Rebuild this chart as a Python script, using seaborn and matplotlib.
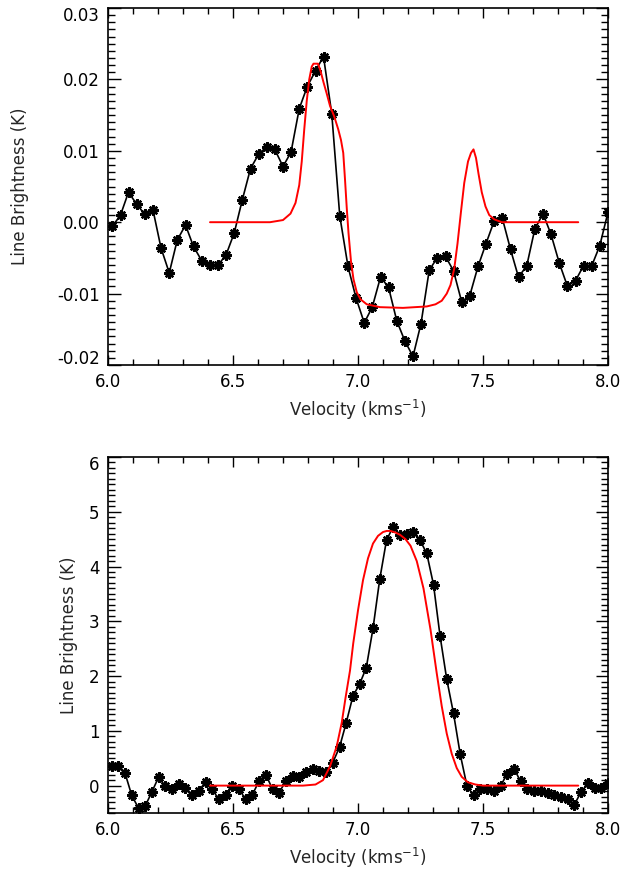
import numpy as np
import pandas as pd
import matplotlib
matplotlib.use("Agg")
import matplotlib.pyplot as plt
from matplotlib.ticker import MultipleLocator
from matplotlib.transforms import ScaledTranslation
import seaborn as sns

# ---------------- top panel: observed spectrum ----------------
top_vel = [6.017, 6.050, 6.082, 6.115, 6.147, 6.180, 6.212, 6.245, 6.277, 6.310,
           6.342, 6.375, 6.407, 6.440, 6.472, 6.505, 6.537, 6.570, 6.602, 6.635,
           6.667, 6.700, 6.732, 6.765, 6.797, 6.830, 6.862, 6.895, 6.927, 6.960,
           6.992, 7.025, 7.057, 7.090, 7.122, 7.155, 7.187, 7.220, 7.252, 7.285,
           7.317, 7.350, 7.382, 7.415, 7.447, 7.480, 7.512, 7.545, 7.577, 7.610,
           7.642, 7.675, 7.707, 7.740, 7.772, 7.805, 7.837, 7.870, 7.902, 7.935,
           7.967, 8.000]
top_tb = [-0.0006, 0.0010, 0.0042, 0.0025, 0.0011, 0.0017, -0.0036, -0.0071, -0.0025, -0.0004,
          -0.0034, -0.0054, -0.0060, -0.0060, -0.0046, -0.0015, 0.0031, 0.0075, 0.0095, 0.0106,
          0.0102, 0.0078, 0.0098, 0.0159, 0.0190, 0.0212, 0.0232, 0.0152, 0.0009, -0.0062,
          -0.0106, -0.0141, -0.0119, -0.0077, -0.0091, -0.0138, -0.0166, -0.0188, -0.0142, -0.0067,
          -0.0050, -0.0048, -0.0068, -0.0112, -0.0103, -0.0062, -0.0030, 0.0002, 0.0006, -0.0038,
          -0.0077, -0.0061, -0.0010, 0.0012, -0.0017, -0.0057, -0.0089, -0.0082, -0.0061, -0.0061,
          -0.0033, 0.0014]

# top panel: model
top_model_vel = [6.408, 6.648, 6.700, 6.730, 6.750, 6.765, 6.775, 6.785, 6.795, 6.805,
                 6.815, 6.822, 6.840, 6.850, 6.862, 6.875, 6.888, 6.905, 6.921, 6.932,
                 6.941, 6.948, 6.955, 6.962, 6.972, 6.982, 6.995, 7.010, 7.035, 7.088,
                 7.180, 7.275, 7.310, 7.335, 7.355, 7.370, 7.385, 7.398, 7.412, 7.425,
                 7.440, 7.452, 7.462, 7.472, 7.482, 7.495, 7.510, 7.525, 7.545, 7.575,
                 7.881]
top_model_tb = [0.0000, 0.0000, 0.0003, 0.0012, 0.0027, 0.0052, 0.0085, 0.0130, 0.0170, 0.0200,
                0.0218, 0.0222, 0.0222, 0.0212, 0.0196, 0.0180, 0.0163, 0.0148, 0.0130, 0.0115,
                0.0097, 0.0060, 0.0020, -0.0015, -0.0055, -0.0080, -0.0098, -0.0108, -0.0115, -0.0119,
                -0.0120, -0.0118, -0.0115, -0.0110, -0.0100, -0.0088, -0.0065, -0.0030, 0.0015, 0.0055,
                0.0085, 0.0097, 0.0102, 0.0090, 0.0068, 0.0042, 0.0022, 0.0010, 0.0004, 0.0000,
                0.0000]

# ---------------- bottom panel: observed spectrum ----------------
bot_vel = [6.014, 6.041, 6.068, 6.095, 6.122, 6.148, 6.175, 6.202, 6.229, 6.256,
           6.282, 6.309, 6.336, 6.363, 6.390, 6.416, 6.443, 6.470, 6.497, 6.524,
           6.550, 6.577, 6.604, 6.631, 6.658, 6.684, 6.711, 6.738, 6.765, 6.792,
           6.818, 6.845, 6.872, 6.899, 6.926, 6.953, 6.980, 7.006, 7.033, 7.060,
           7.087, 7.114, 7.140, 7.167, 7.194, 7.221, 7.248, 7.275, 7.302, 7.328,
           7.355, 7.382, 7.409, 7.436, 7.462, 7.489, 7.516, 7.543, 7.570, 7.597,
           7.624, 7.650, 7.677, 7.704, 7.731, 7.758, 7.785, 7.812, 7.838, 7.865,
           7.892, 7.919, 7.946, 7.972, 7.999]
bot_tb = [0.36, 0.36, 0.23, -0.18, -0.41, -0.38, -0.12, 0.15, -0.01, -0.06,
          0.03, -0.04, -0.17, -0.09, 0.06, -0.06, -0.25, -0.17, -0.01, -0.06,
          -0.25, -0.17, 0.08, 0.20, -0.06, -0.13, 0.08, 0.17, 0.16, 0.25,
          0.31, 0.26, 0.25, 0.42, 0.70, 1.15, 1.64, 1.85, 2.15, 2.87,
          3.77, 4.48, 4.72, 4.57, 4.60, 4.63, 4.48, 4.24, 3.67, 2.74,
          1.94, 1.32, 0.57, -0.01, -0.18, -0.07, -0.07, -0.10, -0.01, 0.22,
          0.31, 0.08, -0.07, -0.09, -0.09, -0.13, -0.18, -0.20, -0.24, -0.35,
          -0.12, 0.04, -0.04, -0.04, 0.05]

# bottom panel: model
bot_model_vel = [6.408, 6.780, 6.830, 6.860, 6.888, 6.915, 6.935, 6.950, 6.968, 6.981,
                 7.000, 7.020, 7.040, 7.060, 7.080, 7.100, 7.115, 7.130, 7.150, 7.168,
                 7.190, 7.210, 7.235, 7.262, 7.290, 7.315, 7.335, 7.355, 7.375, 7.395,
                 7.415, 7.440, 7.470, 7.500, 7.881]
bot_model_tb = [0.00, 0.00, 0.02, 0.10, 0.35, 0.72, 1.15, 1.60, 2.10, 2.60,
                3.20, 3.75, 4.15, 4.42, 4.56, 4.63, 4.65, 4.65, 4.62, 4.58,
                4.50, 4.38, 4.10, 3.60, 2.85, 2.05, 1.45, 0.95, 0.58, 0.32,
                0.16, 0.06, 0.02, 0.00, 0.00]

df_top = pd.DataFrame({"v": top_vel, "t": top_tb})
df_top_m = pd.DataFrame({"v": top_model_vel, "t": top_model_tb})
df_bot = pd.DataFrame({"v": bot_vel, "t": bot_tb})
df_bot_m = pd.DataFrame({"v": bot_model_vel, "t": bot_model_tb})

sns.set_style("ticks")
plt.rcParams["font.family"] = ["DejaVu Sans"]

fig = plt.figure(figsize=(6.30, 8.69), dpi=100)
ax1 = fig.add_axes([108 / 630, 1 - 365 / 869, 500 / 630, 357 / 869])
ax2 = fig.add_axes([108 / 630, 1 - 813 / 869, 500 / 630, 356 / 869])

asterisk = (8, 2, 0)

for ax, dfo, dfm in [(ax1, df_top, df_top_m), (ax2, df_bot, df_bot_m)]:
    sns.lineplot(data=dfo, x="v", y="t", ax=ax, color="black", linewidth=1.2,
                 marker=asterisk, markersize=7.5, markeredgewidth=1.7,
                 markeredgecolor="black", estimator=None, sort=False, legend=False)
    sns.lineplot(data=dfm, x="v", y="t", ax=ax, color="#ff0000", linewidth=1.4,
                 estimator=None, sort=False, legend=False)
    ax.set_xlim(6.0, 8.0)
    ax.xaxis.set_major_locator(MultipleLocator(0.5))
    ax.xaxis.set_minor_locator(MultipleLocator(0.1))
    ax.xaxis.set_major_formatter(matplotlib.ticker.FormatStrFormatter("%.1f"))
    ax.tick_params(which="both", direction="in", top=True, right=True,
                   labelsize=12, colors="black", width=1.0)
    ax.tick_params(axis="x", which="major", length=7, pad=6)
    ax.tick_params(axis="x", which="minor", length=4)
    ax.tick_params(axis="y", which="major", length=9, pad=6)
    ax.tick_params(axis="y", which="minor", length=5)
    for sp in ax.spines.values():
        sp.set_visible(True)
        sp.set_linewidth(1.2)
        sp.set_color("black")
    ax.set_xlabel("Velocity (kms$^{-1}$)", fontsize=12, labelpad=5)

ax1.set_ylabel("Line Brightness (K)", fontsize=12, labelpad=20)
ax2.set_ylabel("Line Brightness (K)", fontsize=12, labelpad=8)

ax1.set_ylim(-0.02, 0.03)
ax1.yaxis.set_major_locator(MultipleLocator(0.01))
ax1.yaxis.set_minor_locator(MultipleLocator(0.001))
ax1.yaxis.set_major_formatter(matplotlib.ticker.FormatStrFormatter("%.2f"))

ax2.set_ylim(-0.5, 6.0)
ax2.yaxis.set_major_locator(MultipleLocator(1))
ax2.yaxis.set_minor_locator(MultipleLocator(0.1))
ax2.yaxis.set_major_formatter(matplotlib.ticker.FormatStrFormatter("%d"))

# nudge the outermost y labels inward, as in the reference
fig.canvas.draw()


def nudge(ax, value, dy_px):
    for tk in ax.yaxis.get_major_ticks():
        if abs(tk.get_loc() - value) < 1e-9:
            lab = tk.label1
            lab.set_transform(lab.get_transform() +
                              ScaledTranslation(0, dy_px / 100.0, fig.dpi_scale_trans))


nudge(ax1, 0.03, -6)
nudge(ax1, -0.02, 8)
nudge(ax2, 6.0, -6)

fig.savefig("out.png", dpi=100, facecolor="white")
